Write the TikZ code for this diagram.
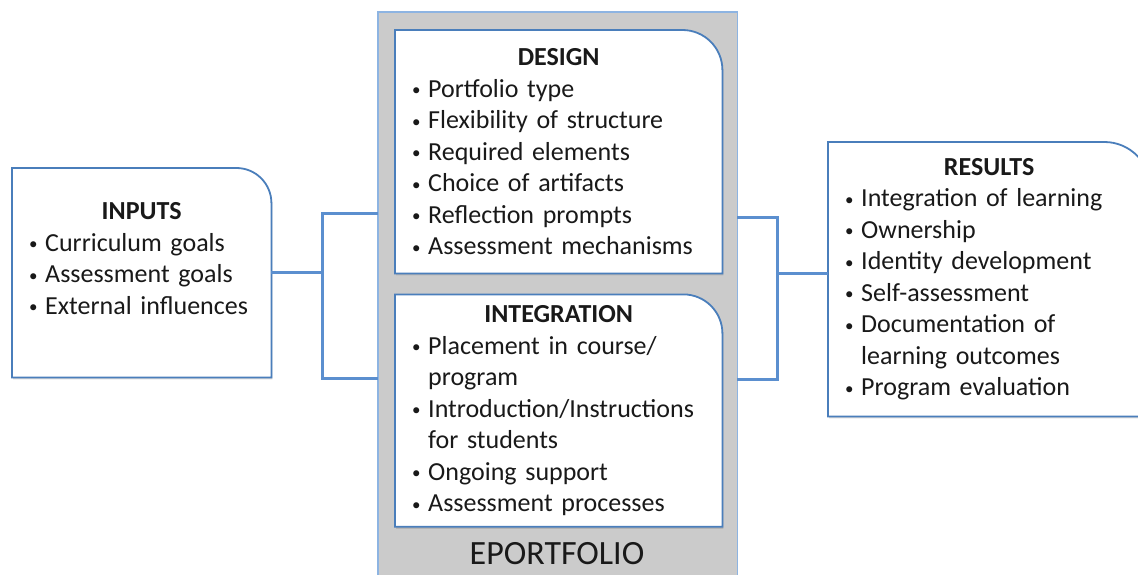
\documentclass[tikz,border=0pt]{standalone}
\usepackage{fontspec}
\setmainfont{Carlito}
\usetikzlibrary{positioning,backgrounds,shadows}

\definecolor{frameblue}{HTML}{4A7EBB}
\definecolor{linkblue}{HTML}{5B8FCF}
\definecolor{edgeblue}{HTML}{8DB4E2}
\definecolor{panelgray}{HTML}{CBCBCB}

\newcommand{\ptitle}[1]{{\centering\bfseries #1\par}}
\newcommand{\itm}[1]{\par\noindent\hangindent=17pt%
     \makebox[17pt][l]{\hspace{1pt}\raisebox{1.5pt}{\fontsize{17}{17}\selectfont\textbullet}}#1}

\begin{document}
\begin{tikzpicture}[x=1pt,y=1pt]

\def\gap{21pt}

\tikzset{
        every node/.style={font=\fontsize{26}{31.5}\selectfont,text=black!90},
        panel/.style={anchor=north west,align=left,inner xsep=16pt,inner ysep=0pt},
        frame/.style={draw=frameblue,line width=1.8pt,fill=white,
                drop shadow={shadow xshift=1pt,shadow yshift=-2pt,opacity=.3}},
        link/.style={draw=linkblue,line width=3pt},
        eportbox/.style={draw=edgeblue,line width=1.6pt,fill=panelgray}
}

\useasboundingbox (0,0) rectangle (1138,-575);

\node[anchor=north west,inner sep=0pt,minimum width=359pt,minimum height=600pt] (eport) at (378,-12) {};
\node[font=\fontsize{34}{40}\selectfont] (eplabel) at (557,-554) {EPORTFOLIO};

\node[panel,text width=227pt,minimum height=209pt] (inputs) at (12,-168)
     {\ptitle{INPUTS}\itm{Curriculum goals}\itm{Assessment goals}\itm{External influences}\par\vspace{28pt}};

\node[panel,text width=295pt,minimum height=243pt] (design) at (395,-30)
     {\ptitle{DESIGN}\itm{Portfolio type}\itm{Flexibility of structure}\itm{Required elements}%
      \itm{Choice of artifacts}\itm{Reflection prompts}\itm{Assessment mechanisms}};

\node[panel,text width=295pt,minimum height=232pt,below=\gap of design] (integration)
     {\ptitle{INTEGRATION}\itm{Placement in course/\newline program}%
      \itm{Introduction/Instructions\newline for students}\itm{Ongoing support}\itm{Assessment processes}};

\node[panel,text width=290pt,minimum height=274pt] (results) at (828,-142)
     {\ptitle{RESULTS}\itm{Integration of learning}\itm{Ownership}\itm{Identity development}%
      \itm{Self-assessment}\itm{Documentation of\newline learning outcomes}\itm{Program evaluation}};

\begin{pgfonlayer}{background}
\draw[eportbox] (eport.south west) rectangle (eport.north east);
\foreach \n/\r in {inputs/35,design/40,integration/39,results/46}
     \draw[frame] (\n.south west) -- (\n.north west) -- ([xshift=-\r pt]\n.north east)
          arc[start angle=90,end angle=0,radius=\r pt] -- (\n.south east) -- cycle;
\end{pgfonlayer}

\coordinate (jl) at (322,-213);
\coordinate (jlb) at (322,-378);
\coordinate (jr) at (777,-217);
\coordinate (jrb) at (777,-379);

\draw[link] (inputs.east) -- (inputs.east -| jl);
\draw[link] (eport.west |- jl) -- (jl) -- (jlb) -- (eport.west |- jlb);
\draw[link] (eport.east |- jr) -- (jr) -- (jrb) -- (eport.east |- jrb);
\draw[link] ([yshift=6pt]results.west) -- ([yshift=6pt]results.west -| jr);

\end{tikzpicture}
\end{document}
